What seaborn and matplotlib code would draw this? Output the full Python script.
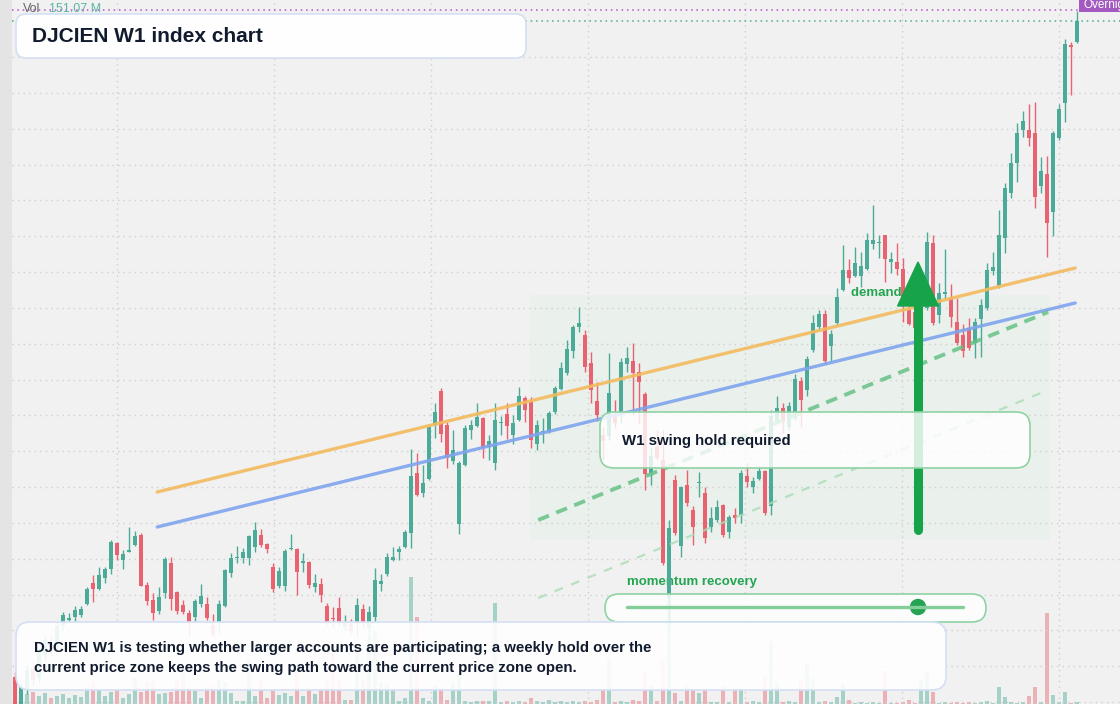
import numpy as np
import pandas as pd
import matplotlib
matplotlib.use("Agg")
import matplotlib.pyplot as plt
import seaborn as sns
from matplotlib.patches import FancyBboxPatch, Rectangle, Polygon, Circle
from matplotlib.lines import Line2D
from matplotlib.transforms import IdentityTransform

# weekly candles (index points)
opens = [1027, 994, 1014, 1036, 1026, 1049, 1062, 1059, 1079, 1084,
         1087, 1089, 1100, 1121, 1115, 1126, 1135, 1161, 1144, 1152,
         1159, 1169, 1119, 1104, 1093, 1111, 1141, 1112, 1099, 1091,
         1087, 1100, 1100, 1079, 1082, 1098, 1131, 1146, 1146, 1146,
         1157, 1169, 1160, 1137, 1118, 1118, 1155, 1155, 1141, 1142,
         1117, 1120, 1098, 1086, 1096, 1077, 1080, 1081, 1095, 1076,
         1087, 1120, 1130, 1144, 1152, 1157, 1171, 1231, 1211, 1225,
         1279, 1313, 1279, 1243, 1180, 1239, 1274, 1278, 1286, 1257,
         1241, 1281, 1290, 1269, 1284, 1306, 1302, 1260, 1272, 1272,
         1292, 1315, 1331, 1353, 1377, 1369, 1341, 1303, 1269, 1268,
         1290, 1289, 1340, 1343, 1332, 1310, 1231, 1257, 1244, 1106,
         1224, 1158, 1219, 1194, 1221, 1211, 1177, 1184, 1199, 1172,
         1189, 1189, 1228, 1217, 1225, 1233, 1198, 1282, 1296, 1277,
         1286, 1323, 1314, 1354, 1377, 1390, 1358, 1381, 1414, 1434,
         1428, 1428, 1435, 1460, 1461, 1469, 1442, 1442, 1435, 1394,
         1392, 1372, 1396, 1461, 1389, 1410, 1406, 1382, 1369, 1376,
         1361, 1385, 1396, 1433, 1418, 1466, 1511, 1541, 1574, 1574,
         1571, 1518, 1530, 1492, 1566, 1601, 1659, 1662]
highs = [1032, 1022, 1039, 1042, 1056, 1069, 1068, 1082, 1092, 1091,
         1098, 1098, 1117, 1129, 1137, 1137, 1164, 1162, 1154, 1177,
         1173, 1171, 1122, 1111, 1117, 1147, 1147, 1113, 1104, 1094,
         1105, 1120, 1107, 1090, 1104, 1135, 1151, 1158, 1156, 1169,
         1182, 1175, 1161, 1141, 1137, 1155, 1170, 1156, 1151, 1143,
         1130, 1126, 1101, 1097, 1107, 1089, 1085, 1106, 1100, 1098,
         1136, 1130, 1151, 1157, 1158, 1174, 1255, 1251, 1239, 1278,
         1301, 1316, 1282, 1274, 1243, 1279, 1284, 1301, 1287, 1269,
         1301, 1288, 1301, 1289, 1317, 1308, 1307, 1284, 1286, 1293,
         1318, 1342, 1364, 1379, 1397, 1374, 1352, 1322, 1277, 1351,
         1304, 1346, 1357, 1361, 1341, 1312, 1257, 1274, 1274, 1184,
         1229, 1218, 1234, 1198, 1232, 1217, 1197, 1204, 1200, 1189,
         1196, 1234, 1241, 1227, 1238, 1234, 1294, 1308, 1301, 1302,
         1330, 1327, 1348, 1389, 1394, 1394, 1374, 1416, 1459, 1445,
         1457, 1452, 1471, 1499, 1469, 1469, 1452, 1461, 1446, 1401,
         1399, 1404, 1472, 1469, 1421, 1455, 1420, 1406, 1380, 1386,
         1386, 1405, 1441, 1452, 1494, 1521, 1551, 1581, 1593, 1600,
         1602, 1547, 1548, 1573, 1600, 1665, 1662, 1693]
lows = [984, 989, 1010, 1018, 1022, 1044, 1048, 1054, 1075, 1082,
        1082, 1087, 1099, 1102, 1114, 1121, 1130, 1144, 1135, 1152,
        1158, 1118, 1099, 1084, 1090, 1106, 1094, 1090, 1090, 1067,
        1082, 1097, 1084, 1067, 1071, 1097, 1127, 1141, 1141, 1139,
        1152, 1157, 1151, 1112, 1116, 1113, 1154, 1109, 1132, 1116,
        1112, 1102, 1079, 1077, 1079, 1074, 1070, 1067, 1076, 1064,
        1082, 1113, 1128, 1143, 1144, 1156, 1156, 1208, 1207, 1224,
        1266, 1262, 1236, 1240, 1170, 1238, 1265, 1277, 1246, 1244,
        1234, 1269, 1265, 1260, 1283, 1282, 1256, 1254, 1261, 1271,
        1290, 1314, 1329, 1346, 1372, 1332, 1301, 1283, 1244, 1264,
        1276, 1281, 1332, 1289, 1281, 1214, 1219, 1244, 1139, 1074,
        1169, 1147, 1198, 1159, 1207, 1161, 1172, 1182, 1167, 1166,
        1181, 1181, 1217, 1211, 1224, 1189, 1189, 1281, 1271, 1274,
        1284, 1277, 1308, 1352, 1374, 1340, 1343, 1379, 1413, 1421,
        1427, 1417, 1434, 1455, 1446, 1422, 1431, 1429, 1382, 1379,
        1372, 1369, 1394, 1379, 1381, 1404, 1377, 1359, 1347, 1354,
        1346, 1347, 1394, 1429, 1416, 1451, 1506, 1522, 1567, 1558,
        1496, 1511, 1447, 1468, 1564, 1582, 1609, 1661]
closes = [989, 1017, 1034, 1024, 1052, 1064, 1054, 1078, 1089, 1086,
          1094, 1095, 1115, 1115, 1129, 1135, 1162, 1149, 1150, 1154,
          1168, 1118, 1103, 1091, 1107, 1145, 1105, 1093, 1092, 1082,
          1103, 1108, 1086, 1069, 1100, 1134, 1146, 1147, 1152, 1168,
          1174, 1159, 1155, 1115, 1133, 1153, 1156, 1132, 1143, 1119,
          1121, 1109, 1082, 1085, 1081, 1082, 1073, 1099, 1081, 1092,
          1124, 1123, 1147, 1147, 1155, 1172, 1228, 1209, 1221, 1277,
          1292, 1270, 1246, 1254, 1241, 1276, 1279, 1287, 1256, 1263,
          1284, 1282, 1278, 1281, 1308, 1294, 1264, 1279, 1273, 1291,
          1316, 1336, 1355, 1377, 1381, 1337, 1314, 1289, 1263, 1311,
          1281, 1342, 1346, 1331, 1322, 1230, 1248, 1246, 1141, 1176,
          1171, 1217, 1201, 1177, 1222, 1166, 1186, 1197, 1169, 1187,
          1186, 1231, 1222, 1223, 1233, 1191, 1288, 1296, 1282, 1298,
          1325, 1304, 1345, 1381, 1390, 1343, 1370, 1407, 1434, 1426,
          1441, 1438, 1464, 1464, 1462, 1445, 1445, 1435, 1399, 1380,
          1376, 1394, 1462, 1381, 1411, 1412, 1387, 1361, 1353, 1356,
          1382, 1399, 1434, 1437, 1469, 1516, 1541, 1571, 1583, 1566,
          1507, 1533, 1481, 1571, 1595, 1660, 1657, 1683]
volumes = [100, 75, 50, 60, 40, 55, 30, 40, 50, 30,
           45, 35, 85, 110, 75, 40, 60, 70, 30, 50,
           130, 60, 110, 120, 50, 55, 60, 120, 155, 85,
           65, 30, 85, 85, 120, 110, 55, 15, 15, 220,
           40, 120, 30, 70, 45, 55, 40, 155, 40, 85,
           50, 70, 120, 255, 120, 20, 20, 300, 120, 335,
           370, 110, 95, 70, 15, 30, 635, 435, 30, 15,
           90, 70, 20, 105, 150, 15, 10, 15, 15, 15,
           505, 10, 15, 10, 15, 10, 30, 15, 10, 20,
           10, 15, 10, 15, 10, 15, 10, 20, 70, 225,
           10, 15, 10, 20, 15, 160, 90, 15, 215, 530,
           55, 15, 90, 70, 55, 70, 10, 10, 90, 10,
           70, 70, 10, 15, 10, 140, 315, 105, 10, 15,
           10, 120, 205, 125, 10, 15, 10, 35, 100, 20,
           5, 10, 5, 10, 5, 165, 5, 5, 10, 20,
           5, 120, 160, 60, 5, 10, 5, 10, 5, 10,
           5, 10, 15, 5, 85, 35, 10, 5, 10, 40,
           85, 10, 455, 45, 10, 60, 5, 10]

# drawings on the chart
trend_x = [23.7, 176.7]
resistance_y = [1212, 1436]
support_y = [1177, 1401]
channel_x = [87.2, 172.2]
channel_y = [1184, 1392]
channel_low_y = [1106, 1314]
zone_x = [85.8, 172.5]
zone_y = [1164, 1409]
arrow_x = 150.5
arrow_from, arrow_to = 1174, 1442
overnight_level = 1694

UP, DOWN = "#4caa98", "#e8636f"
W, H = 1120, 704

sns.set_theme(style="white")
plt.rcParams["font.family"] = ["Liberation Sans", "DejaVu Sans"]

df = pd.DataFrame({"open": opens, "high": highs, "low": lows,
                   "close": closes, "volume": volumes})
df["idx"] = np.arange(len(df))
df["up"] = df["close"] >= df["open"]
colors = np.where(df["up"], UP, DOWN)

fig = plt.figure(figsize=(W / 100, H / 100), dpi=100, facecolor="#e4e4e4")
rect = [12 / W, 0, 1 - 12 / W, 1]
ax_vol = fig.add_axes(rect, facecolor="#f1f1f1")
ax = fig.add_axes(rect, sharex=ax_vol)
ax.patch.set_visible(False)

# volume
ax_vol.bar(df["idx"], df["volume"], width=0.8, color=colors, alpha=0.45, linewidth=0)
ax_vol.set_ylim(0, H * 5)
ax_vol.set_yticks([])
ax_vol.tick_params(length=0, labelbottom=False, labelleft=False)
for s in ax_vol.spines.values():
    s.set_visible(False)

# candles
body_lo = np.minimum(df["open"], df["close"])
body_h = np.maximum((df["close"] - df["open"]).abs(), 1.2)
ax.vlines(df["idx"], df["low"], df["high"], color=colors, lw=1, zorder=3)
ax.bar(df["idx"], body_h, bottom=body_lo, width=0.78, color=colors, linewidth=0, zorder=3)

ax.set_xlim(-0.5, (W - 15) / 6)
ax.set_ylim(1000, 1704)
ax.set_yticks(np.arange(1002, 1660, 35.83))
ax.set_xticks(np.arange(17, 185, 26.17))
ax.tick_params(length=0, labelleft=False, labelbottom=False)
ax.grid(True, color="#cfcfcf", linestyle=(0, (1, 3)), lw=1)
ax.set_axisbelow(True)
for s in ax.spines.values():
    s.set_visible(False)

ax.axhline(closes[-1], color=UP, linestyle=(0, (1, 2.5)), lw=1.1, zorder=2)
ax.axhline(overnight_level, color="#b44fd0", linestyle=(0, (1, 2.5)), lw=1.1, zorder=2)

# demand zone
ax.add_patch(Rectangle((zone_x[0], zone_y[0]), zone_x[1] - zone_x[0], zone_y[1] - zone_y[0],
                       facecolor="#dff0e3", alpha=0.35, edgecolor="none", zorder=0.5))

lines = pd.DataFrame({"x": trend_x * 2, "y": resistance_y + support_y,
                      "line": ["res", "res", "sup", "sup"]})
sns.lineplot(data=lines, x="x", y="y", hue="line", palette=["#f3bb5f", "#7fa5ee"],
             lw=2.4, alpha=0.9, legend=False, ax=ax, zorder=4)
ax.plot(channel_x, channel_y, color="#66c285", lw=2.8, alpha=0.85,
        linestyle=(0, (3, 2)), zorder=4)
ax.plot(channel_x, channel_low_y, color="#a9dcb6", lw=1.6, alpha=0.8,
        linestyle=(0, (4, 4)), zorder=4)

ax.text(139.3, 1411, "demand zone", color="#22a550", fontsize=9.5,
        fontweight="bold", va="center", zorder=1)
ax.text(627 / W, 1 - 582 / H, "momentum recovery", transform=fig.transFigure,
        color="#22a550", fontsize=9.5, fontweight="bold", va="center", zorder=1)

# arrow
ax.plot([arrow_x, arrow_x], [arrow_from, arrow_to - 40], color="#16a34a", lw=6.5,
        solid_capstyle="round", zorder=5)
ax.add_patch(Polygon([(arrow_x - 3.4, arrow_to - 44), (arrow_x + 3.4, arrow_to - 44),
                      (arrow_x, arrow_to)], closed=True, color="#16a34a", zorder=5))


def box(x0, y0, x1, y1, r, fc, ec, alpha=1.0, lw=1.2):
    p = FancyBboxPatch((x0, H - y1), x1 - x0, y1 - y0,
                       boxstyle=f"round,pad=0,rounding_size={r}",
                       transform=IdentityTransform(), edgecolor=ec, lw=lw)
    p.set_facecolor(matplotlib.colors.to_rgba(fc, alpha))
    fig.add_artist(p)


def label(x, y, s, **kw):
    fig.text(x / W, 1 - y / H, s, va="center", ha="left", **kw)


box(16, 14, 526, 58, 10, "white", "#d3e0f4", 0.96)
label(32, 36, "DJCIEN W1 index chart", fontsize=15, fontweight="bold", color="#111b2e")

box(600, 412, 1030, 468, 14, "white", "#8fd3a3", 0.82)
label(622, 441, "W1 swing hold required", fontsize=10.8, fontweight="bold", color="#111b2e")

box(605, 594, 986, 622, 14, "white", "#8fd3a3", 0.85)
fig.add_artist(Line2D([627, 963], [H - 607, H - 607], transform=IdentityTransform(),
                      color="#83cd98", lw=2.4))
fig.add_artist(Circle((918, H - 607), 7.5, transform=IdentityTransform(), color="#25a352"))

box(16, 622, 946, 690, 14, "white", "#d3e0f4", 0.9)
label(34, 648, "DJCIEN W1 is testing whether larger accounts are participating; a weekly hold over the",
      fontsize=10.8, fontweight="bold", color="#111b2e")
label(34, 668, "current price zone keeps the swing path toward the current price zone open.",
      fontsize=10.8, fontweight="bold", color="#111b2e")

label(23, 9, "Vol", fontsize=9, color="#666666")
label(49, 9, "151.07 M", fontsize=9, color="#5db4a6")

fig.add_artist(Rectangle((1079, H - 12), 45, 14, transform=IdentityTransform(),
                         facecolor="#a459c0", edgecolor="none"))
label(1084, 5, "Overnight", fontsize=8.5, color="white")

fig.savefig("out.png", dpi=100, facecolor=fig.get_facecolor())
